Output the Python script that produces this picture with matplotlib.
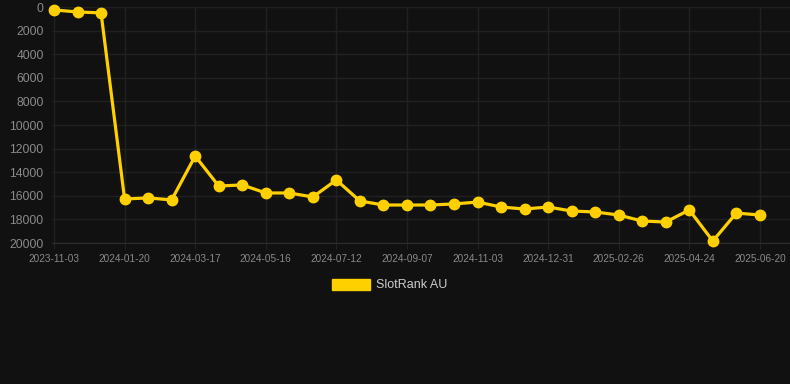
import numpy as np
import matplotlib.pyplot as plt

# rank values, one per snapshot (every third snapshot gets a date label)
ranks = [250, 420, 500, 16270, 16180, 16350, 12630, 15170, 15080, 15760,
         15760, 16100, 14660, 16440, 16780, 16780, 16780, 16690, 16530, 16950,
         17120, 16950, 17290, 17370, 17630, 18140, 18220, 17200, 19830, 17460,
         17630]
tick_labels = ["2023-11-03", "2024-01-20", "2024-03-17", "2024-05-16",
               "2024-07-12", "2024-09-07", "2024-11-03", "2024-12-31",
               "2025-02-26", "2025-04-24", "2025-06-20"]
series_name = "SlotRank AU"

BG = "#111111"
YELLOW = "#FFD000"
GRID = "#212121"
TICK = "#8a8a8a"

plt.rcParams["font.family"] = ["Liberation Sans", "DejaVu Sans"]

fig = plt.figure(figsize=(7.9, 3.84), dpi=100, facecolor=BG)
ax = fig.add_axes([52 / 790, 141 / 384, 738 / 790, 236 / 384], facecolor=BG)

x = np.arange(len(ranks))
ax.plot(x, ranks, color=YELLOW, lw=2.3, marker="o", ms=7.5,
        markerfacecolor=YELLOW, markeredgecolor=YELLOW, label=series_name,
        zorder=3, clip_on=False)

ax.set_xlim(-0.085, 31.28)
ax.set_ylim(20000, 0)
ax.set_yticks(np.arange(0, 20001, 2000))
ax.set_xticks(x[::3])
ax.set_xticklabels(tick_labels)

ax.grid(True, color=GRID, lw=1)
ax.set_axisbelow(True)
for s in ["top", "right", "left"]:
    ax.spines[s].set_visible(False)
ax.spines["bottom"].set_color("#2e2e2e")
ax.tick_params(axis="y", colors=TICK, labelsize=8.8, length=0, pad=6)
ax.tick_params(axis="x", colors=TICK, labelsize=7.2, length=4, pad=4,
               color=GRID)

leg = fig.legend(handles=[plt.Rectangle((0, 0), 1, 1, color=YELLOW)],
                 labels=[series_name], loc="center",
                 bbox_to_anchor=(390 / 790, 1 - 285 / 384),
                 frameon=False, handlelength=3.0, handleheight=1.0,
                 handletextpad=0.5, fontsize=9)
for t in leg.get_texts():
    t.set_color("#cccccc")

fig.savefig("out.png", dpi=100, facecolor=BG)
